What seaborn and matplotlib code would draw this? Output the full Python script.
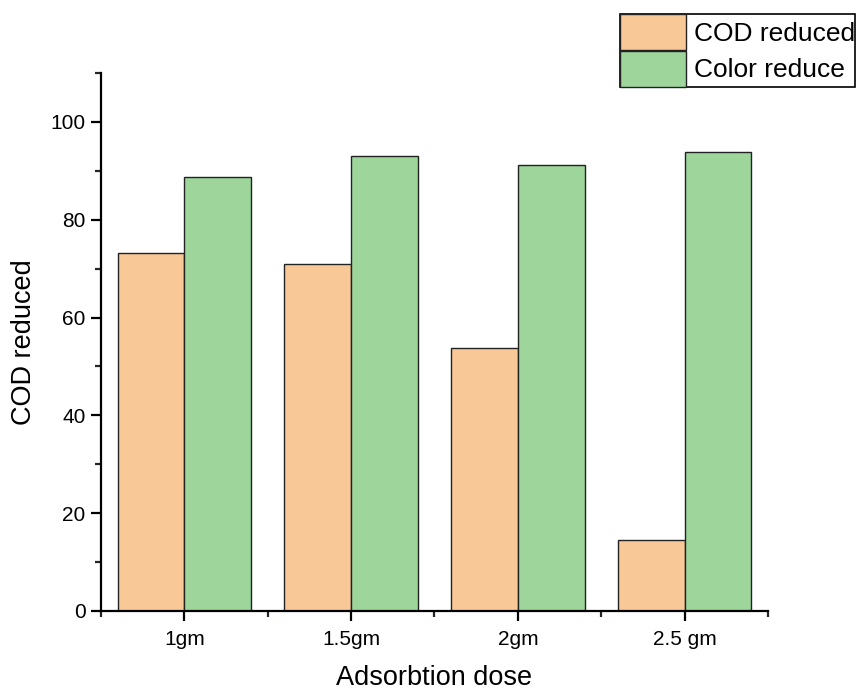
import matplotlib
matplotlib.use("Agg")
import matplotlib.pyplot as plt
from matplotlib.ticker import MultipleLocator, FixedLocator
import seaborn as sns
import pandas as pd

doses = ["1gm", "1.5gm", "2gm", "2.5 gm"]
cod_reduced = [73.2, 71.0, 53.8, 14.6]
color_reduce = [88.8, 93.0, 91.1, 93.8]
series_names = ["COD reduced", "Color reduce"]
palette = ["#F9C897", "#9DD59B"]

df = pd.DataFrame({
    "dose": doses * 2,
    "value": cod_reduced + color_reduce,
    "series": [series_names[0]] * 4 + [series_names[1]] * 4,
})

sns.set_style("ticks")
plt.rcParams["font.family"] = ["Liberation Sans", "DejaVu Sans"]
plt.rcParams["text.color"] = "black"
plt.rcParams["axes.labelcolor"] = "black"

fig = plt.figure(figsize=(8.62, 6.92), dpi=100)
ax = fig.add_axes([101 / 862, 81 / 692, 667 / 862, 538 / 692])

sns.barplot(
    data=df, x="dose", y="value", hue="series", palette=palette, saturation=1,
    width=0.8, edgecolor="#222222", linewidth=1.0, ax=ax, legend=True,
)

ax.set_xlim(-0.5, 3.5)
ax.set_ylim(0, 110)
ax.yaxis.set_major_locator(MultipleLocator(20))
ax.yaxis.set_minor_locator(MultipleLocator(10))
ax.xaxis.set_minor_locator(FixedLocator([-0.5, 0.5, 1.5, 2.5, 3.5]))

for side in ["top", "right"]:
    ax.spines[side].set_visible(False)
for side in ["left", "bottom"]:
    ax.spines[side].set_linewidth(1.6)
    ax.spines[side].set_color("black")

ax.tick_params(axis="both", which="major", direction="out", length=7.5, width=1.6,
               labelsize=15, colors="black")
ax.tick_params(axis="both", which="minor", direction="out", length=4, width=1.6)
ax.tick_params(axis="x", which="major", pad=6)

ax.set_xlabel("Adsorbtion dose", fontsize=19.5, labelpad=12)
ax.set_ylabel("COD reduced", fontsize=19.5, labelpad=10)

handles, labels = ax.get_legend_handles_labels()
ax.get_legend().remove()
leg = fig.legend(
    handles, labels, loc="upper left",
    bbox_to_anchor=(620 / 862, 1 - 14 / 692), bbox_transform=fig.transFigure,
    fontsize=19, frameon=True, fancybox=False, shadow=False, framealpha=1,
    edgecolor="black", borderpad=0, borderaxespad=0, labelspacing=0.03,
    handlelength=2.5, handleheight=1.72, handletextpad=0.3,
)
leg.get_frame().set_linewidth(1.2)

fig.savefig("out.png", dpi=100)
